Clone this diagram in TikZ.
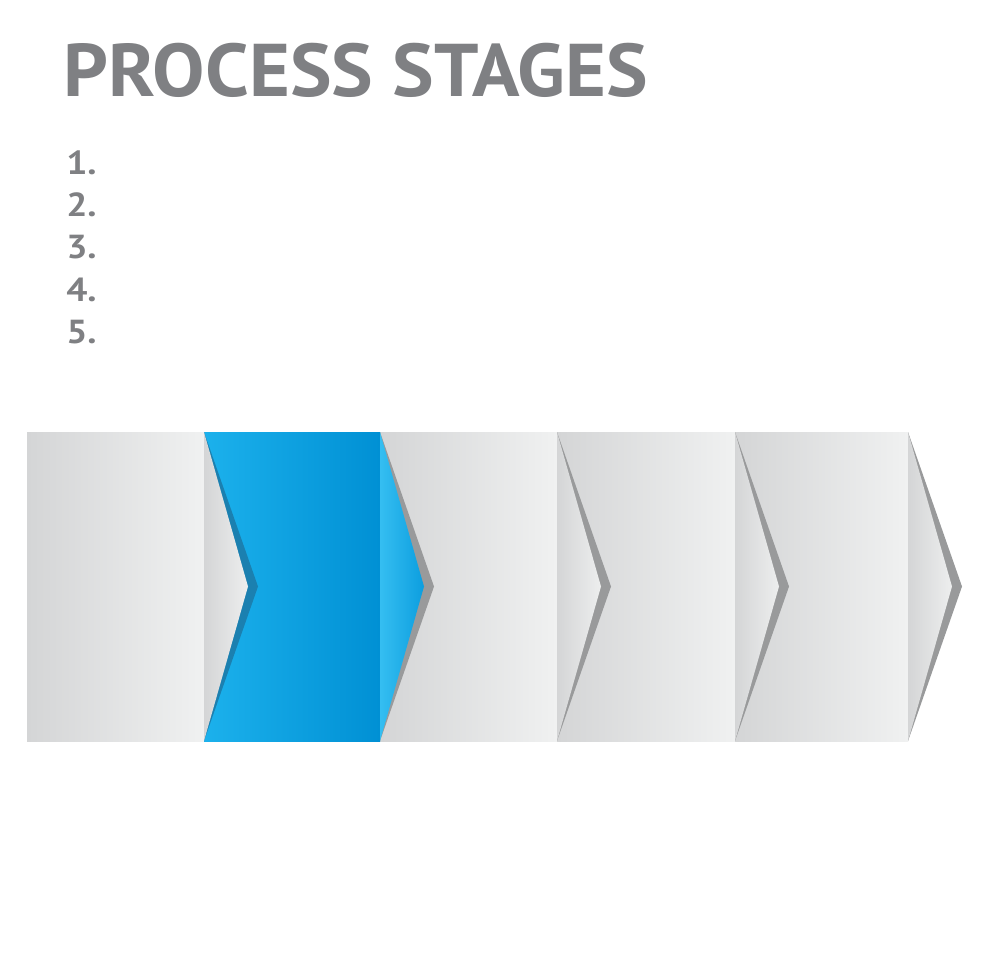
\documentclass[tikz,border=0pt]{standalone}
\usepackage{fontspec}
\setmainfont{PT Sans}
\newfontfamily\titlefont[FakeStretch=1.05]{PT Sans}
\newfontfamily\listfont[FakeStretch=1.12]{PT Sans}

\definecolor{titleGray}{HTML}{7F8083}
\definecolor{cardDark}{HTML}{D4D5D6}
\definecolor{cardLight}{HTML}{F0F1F1}
\definecolor{tipLight}{HTML}{EDEEEE}
\definecolor{grayShadow}{HTML}{999A9B}
\definecolor{blueLight}{HTML}{1CB1EC}
\definecolor{blueDark}{HTML}{0090D4}
\definecolor{blueTipLight}{HTML}{35BEF1}
\definecolor{blueTipDark}{HTML}{0C9EDF}
\definecolor{blueShadow}{HTML}{1B80B0}

\tikzset{
  titletext/.style={text=titleGray, font=\titlefont\fontsize{56}{60}\selectfont\bfseries, inner sep=0pt},
  listtext/.style={text=titleGray, font=\listfont\fontsize{25}{28}\selectfont\bfseries, inner sep=0pt},
  graycard/.style={left color=cardDark, right color=cardLight},
  graytip/.style={left color=cardDark, right color=tipLight}
}

\begin{document}
\begin{tikzpicture}[x=0.75pt, y=-0.75pt]

    \useasboundingbox (0,0) rectangle (980,980);

    % Define parameters
    \def\ytop{432}
    \def\ybot{741}
    \def\ymid{586.5}
    \def\tip{44}
    \def\shadowTip{54}

    % title and list
    \node[titletext, anchor=base west] (title) at (63,97) {PROCESS STAGES};
    \foreach \n [evaluate=\n as \yb using 175+42*(\n-1)] in {1,...,5}
        \node[listtext, anchor=base west] (item\n) at (66,\yb) {\n.};

    % card bodies
    \foreach \xa/\xb in {27/204, 380/557, 557/735, 735/908}
        \shade[graycard] (\xa,\ytop) rectangle (\xb,\ybot);
    \shade[left color=blueLight, right color=blueDark] (204,\ytop) rectangle (380,\ybot);

    % shadows under the tips
    \fill[blueShadow] (204,\ytop) -- (204+\shadowTip,\ymid) -- (204,\ybot) -- cycle;
    \foreach \xa in {380,557,735,908}
        \fill[grayShadow] (\xa,\ytop) -- (\xa+\shadowTip,\ymid) -- (\xa,\ybot) -- cycle;

    % tips
    \foreach \xa in {204,557,735,908}
        \shade[graytip] (\xa,\ytop) -- (\xa+\tip,\ymid) -- (\xa,\ybot) -- cycle;
    \shade[left color=blueTipLight, right color=blueTipDark] (380,\ytop) -- (380+\tip,\ymid) -- (380,\ybot) -- cycle;

\end{tikzpicture}
\end{document}
